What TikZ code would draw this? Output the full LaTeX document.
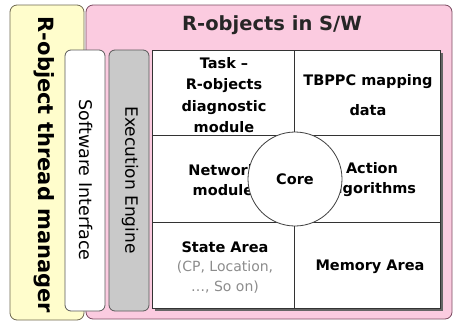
\documentclass[tikz,border=0pt]{standalone}
\usepackage{fontspec}
\setmainfont{DejaVu Sans}
\usetikzlibrary{shapes.geometric}
\definecolor{mgryellow}{HTML}{FFFDCC}
\definecolor{mgrline}{HTML}{6E6850}
\definecolor{swpink}{HTML}{FBCBE0}
\definecolor{swline}{HTML}{7A4A60}
\definecolor{enggray}{HTML}{C9C9C9}
\definecolor{notegray}{HTML}{8C8C8C}
\tikzset{
  panel/.style={draw=#1, line width=0.8pt, rounded corners=7pt},
  sidebox/.style={draw=gray!70!black, line width=0.8pt, rounded corners=6pt},
  celltext/.style={font=\fontsize{14.5}{21.5}\selectfont\bfseries, align=center, inner sep=0pt},
  notetext/.style={font=\fontsize{14}{20}\selectfont, text=notegray, align=center, inner sep=0pt},
  vlabel/.style={rotate=-90, inner sep=0pt},
  gridline/.style={draw=black!80, line width=0.9pt},
}
\begin{document}
\begin{tikzpicture}[x=1pt, y=-1pt]
\useasboundingbox (0,0) rectangle (454,324);
% thread manager panel and software panel
\draw[panel=mgrline, fill=mgryellow] (10,5) rectangle (84,320);
\draw[panel=swline, fill=swpink] (86,5) rectangle (452,319);
\node[vlabel, font=\fontsize{21}{24}\selectfont\bfseries] (mgr) at (44,165) {R-object thread manager};
\node[font=\fontsize{19.5}{22}\selectfont\bfseries, text=black!85, inner sep=0pt] (title) at (272,25) {R-objects in S/W};
% interface and engine columns
\draw[sidebox, fill=white] (65,50) rectangle (105,311);
\draw[sidebox, fill=enggray] (109,50) rectangle (149,311);
\node[vlabel, font=\fontsize{17.5}{20}\selectfont] (swi) at (86,180) {Software Interface};
\node[vlabel, font=\fontsize{17}{20}\selectfont] (eng) at (130,180) {Execution Engine};
% module grid with a drop shadow
\fill[black!60] (155,53) rectangle (443,311);
\draw[gridline, fill=white] (152,50) rectangle (440,308);
\coordinate (vtop) at (294,50);
\coordinate (vbot) at (294,308);
\coordinate (r1l) at (152,135);
\coordinate (r1r) at (440,135);
\coordinate (r2l) at (152,222);
\coordinate (r2r) at (440,222);
\draw[gridline] (vtop) -- (vbot);
\draw[gridline] (r1l) -- (r1r);
\draw[gridline] (r2l) -- (r2r);
\node[celltext] (task) at (224,95) {Task –\\R-objects\\diagnostic\\module};
\node[celltext] (tbppc) at (368,95) {TBPPC mapping\\[8pt]data};
\node[celltext, font=\fontsize{14.5}{20}\selectfont\bfseries] (net) at (223,180) {Network\\module};
\node[celltext, font=\fontsize{14.5}{20}\selectfont\bfseries] (act) at (372,180) {Action\\algorithms};
\node[celltext] (state) at (225,247) {State Area};
\node[notetext] (statenote) at (225,277) {(CP, Location,\\…, So on)};
\node[celltext] (mem) at (370,267) {Memory Area};
% core on top of the grid
\node[circle, draw=black!75, line width=0.8pt, fill=white, minimum size=94pt, inner sep=0pt,
      font=\fontsize{14.5}{16}\selectfont\bfseries] (core) at (295,179) {Core};
\end{tikzpicture}
\end{document}
